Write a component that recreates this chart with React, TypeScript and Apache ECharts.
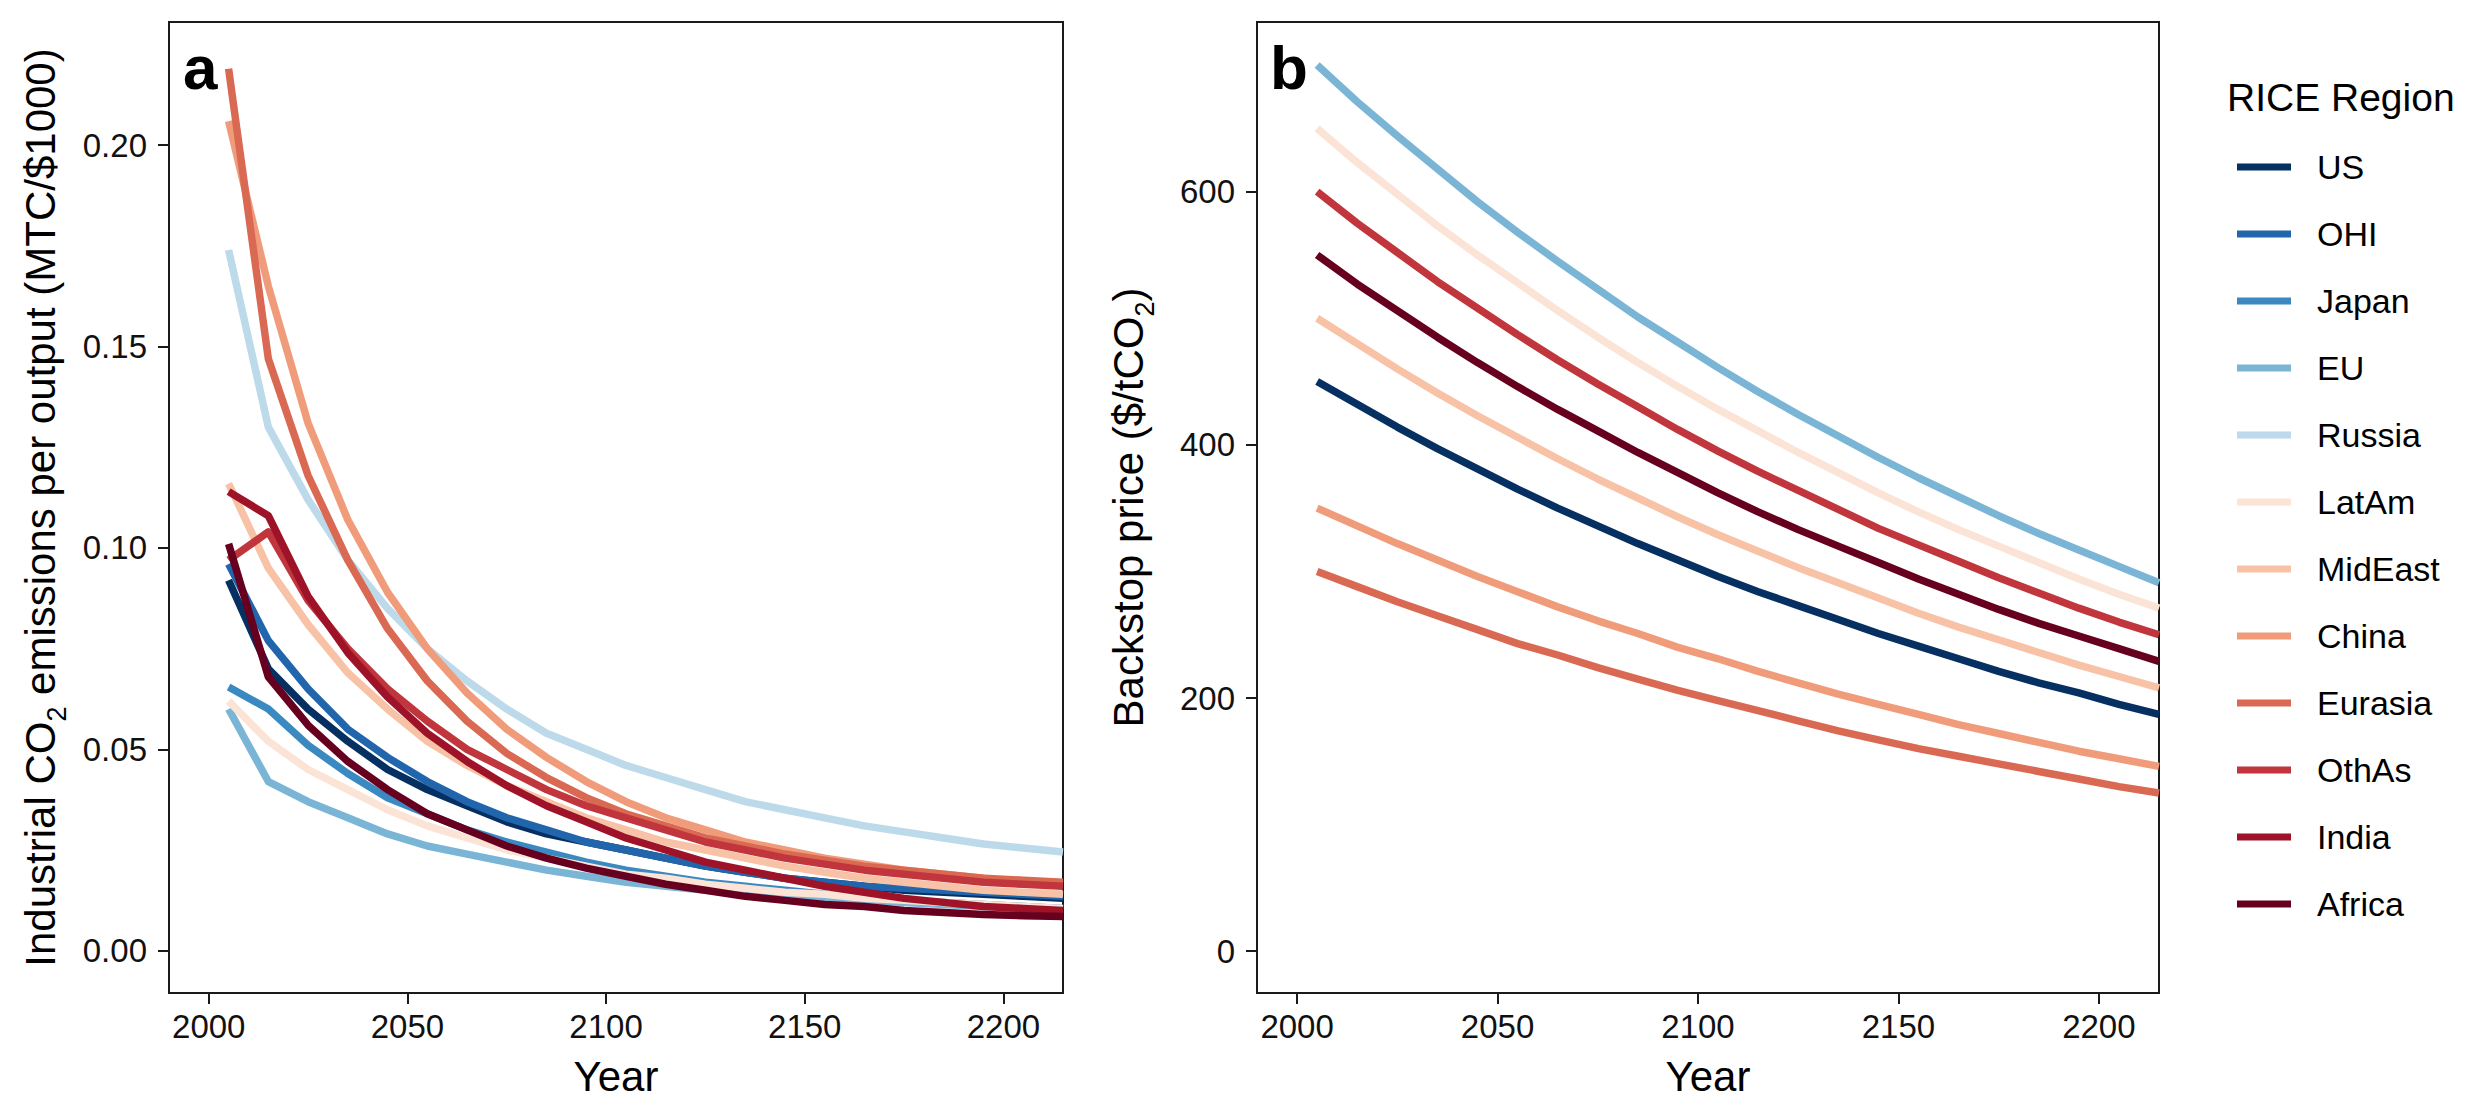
import React, { useEffect, useRef } from "react";
import * as echarts from "echarts";

const FONT = "'Liberation Sans', Arial, Helvetica, sans-serif";

const regions = ["US", "OHI", "Japan", "EU", "Russia", "LatAm", "MidEast", "China", "Eurasia", "OthAs", "India", "Africa"];
const regionColors = ["#053061", "#2166AC", "#3A89C1", "#7BB5D6", "#BCDAEA", "#FBE3D6", "#F8C2A6", "#F09C7B", "#DA6953", "#C0363C", "#9F1329", "#67001F"];

const years = [2005, 2015, 2025, 2035, 2045, 2055, 2065, 2075, 2085, 2095, 2105, 2115, 2125, 2135, 2145, 2155, 2165, 2175, 2185, 2195, 2205, 2215];

const xTicks = [2000, 2050, 2100, 2150, 2200];
const yTicksA = [0, 0.05, 0.1, 0.15, 0.2];
const yTicksB = [0, 200, 400, 600];

// Panel a: industrial CO2 emissions per output (MTC/$1000)
const usA = [0.092, 0.070, 0.060, 0.052, 0.045, 0.040, 0.036, 0.032, 0.029, 0.027, 0.025, 0.023, 0.021, 0.0195, 0.018, 0.017, 0.016, 0.015, 0.0145, 0.014, 0.0135, 0.013];
const ohiA = [0.096, 0.077, 0.065, 0.055, 0.048, 0.042, 0.037, 0.033, 0.030, 0.027, 0.025, 0.023, 0.021, 0.0195, 0.018, 0.017, 0.016, 0.0155, 0.015, 0.0145, 0.014, 0.0135];
const japanA = [0.0655, 0.060, 0.051, 0.044, 0.038, 0.034, 0.030, 0.027, 0.0245, 0.022, 0.020, 0.0185, 0.017, 0.016, 0.015, 0.014, 0.013, 0.0125, 0.012, 0.0115, 0.011, 0.0105];
const euA = [0.060, 0.042, 0.037, 0.033, 0.029, 0.026, 0.024, 0.022, 0.020, 0.0185, 0.017, 0.016, 0.015, 0.014, 0.0135, 0.013, 0.0125, 0.012, 0.0115, 0.011, 0.0105, 0.010];
const russiaA = [0.174, 0.130, 0.112, 0.097, 0.085, 0.075, 0.067, 0.060, 0.054, 0.050, 0.046, 0.043, 0.040, 0.037, 0.035, 0.033, 0.031, 0.0295, 0.028, 0.0265, 0.0255, 0.0245];
const latamA = [0.062, 0.052, 0.045, 0.040, 0.035, 0.031, 0.028, 0.025, 0.023, 0.021, 0.019, 0.018, 0.0165, 0.0155, 0.0145, 0.014, 0.013, 0.0125, 0.012, 0.0115, 0.011, 0.0105];
const mideastA = [0.116, 0.095, 0.081, 0.069, 0.060, 0.052, 0.046, 0.041, 0.037, 0.033, 0.030, 0.027, 0.025, 0.023, 0.021, 0.0195, 0.018, 0.017, 0.016, 0.015, 0.0145, 0.014];
const chinaA = [0.206, 0.165, 0.131, 0.107, 0.089, 0.075, 0.064, 0.055, 0.048, 0.042, 0.037, 0.033, 0.030, 0.027, 0.025, 0.023, 0.0215, 0.020, 0.019, 0.018, 0.017, 0.0165];
const eurasiaA = [0.219, 0.147, 0.118, 0.097, 0.080, 0.067, 0.057, 0.049, 0.043, 0.038, 0.034, 0.031, 0.028, 0.026, 0.024, 0.0225, 0.021, 0.020, 0.019, 0.018, 0.0175, 0.017];
const othasA = [0.097, 0.104, 0.087, 0.075, 0.065, 0.057, 0.050, 0.045, 0.040, 0.036, 0.033, 0.030, 0.027, 0.025, 0.023, 0.0215, 0.020, 0.019, 0.018, 0.017, 0.0165, 0.016];
const indiaA = [0.114, 0.108, 0.088, 0.074, 0.063, 0.054, 0.047, 0.041, 0.036, 0.032, 0.028, 0.025, 0.022, 0.020, 0.018, 0.016, 0.0145, 0.013, 0.012, 0.011, 0.0105, 0.010];
const africaA = [0.101, 0.068, 0.056, 0.047, 0.040, 0.034, 0.030, 0.026, 0.023, 0.0205, 0.0185, 0.0165, 0.015, 0.0135, 0.0125, 0.0115, 0.011, 0.010, 0.0095, 0.009, 0.0087, 0.0085];

// Panel b: backstop price ($/tCO2); regions not drawn in the reference are null
const usB = [450, 432, 414, 397, 381, 365, 350, 336, 322, 309, 296, 284, 273, 262, 251, 241, 231, 221, 212, 204, 195, 187];
const euB = [700, 671, 644, 618, 592, 568, 545, 523, 501, 481, 461, 442, 424, 407, 390, 374, 359, 344, 330, 317, 304, 291];
const latamB = [650, 623, 598, 573, 550, 528, 506, 485, 465, 446, 428, 411, 394, 378, 362, 347, 333, 320, 307, 294, 282, 271];
const mideastB = [500, 480, 460, 441, 423, 406, 389, 373, 358, 343, 329, 316, 303, 291, 279, 267, 256, 246, 236, 226, 217, 208];
const chinaB = [350, 336, 322, 309, 296, 284, 272, 261, 251, 240, 231, 221, 212, 203, 195, 187, 179, 172, 165, 158, 152, 146];
const eurasiaB = [300, 288, 276, 265, 254, 243, 234, 224, 215, 206, 198, 190, 182, 174, 167, 160, 154, 148, 142, 136, 130, 125];
const othasB = [600, 575, 552, 529, 508, 487, 467, 448, 430, 412, 395, 379, 364, 349, 334, 321, 308, 295, 283, 271, 260, 250];
const africaB = [550, 527, 506, 485, 465, 446, 428, 411, 394, 378, 362, 347, 333, 320, 307, 294, 282, 270, 259, 249, 239, 229];

const panelA = [usA, ohiA, japanA, euA, russiaA, latamA, mideastA, chinaA, eurasiaA, othasA, indiaA, africaA];
const panelB = [usB, null, null, euB, null, latamB, mideastB, chinaB, eurasiaB, othasB, null, africaB];

const LINE_W = 7.5;
const AXIS_COLOR = "#1a1a1a";

function makeXAxis(gridIndex: number) {
  return {
    type: "value",
    gridIndex,
    min: 1990,
    max: 2215,
    name: "Year",
    nameLocation: "middle",
    nameGap: 62,
    nameTextStyle: { fontSize: 42, color: "#000", fontFamily: FONT },
    axisLine: { show: false, onZero: false },
    axisTick: { show: true, length: 11, customValues: xTicks, lineStyle: { color: AXIS_COLOR, width: 2 } },
    axisLabel: { show: true, customValues: xTicks, fontSize: 33, color: "#111", margin: 17, fontFamily: FONT, formatter: (v: number) => String(v) },
    splitLine: { show: false },
  };
}

function makeYAxis(gridIndex: number, min: number, max: number, ticks: number[], name: string, fmt: (v: number) => string) {
  return {
    type: "value",
    gridIndex,
    min,
    max,
    name,
    nameLocation: "middle",
    nameGap: 99,
    nameRotate: 90,
    nameTextStyle: {
      fontSize: 42,
      color: "#000",
      fontFamily: FONT,
      rich: {
        a: { fontSize: 42, lineHeight: 60, verticalAlign: "middle", color: "#000", fontFamily: FONT },
        s: { fontSize: 27, lineHeight: 27, verticalAlign: "bottom", color: "#000", fontFamily: FONT },
      },
    },
    axisLine: { show: false, onZero: false },
    axisTick: { show: true, length: 11, customValues: ticks, lineStyle: { color: AXIS_COLOR, width: 2 } },
    axisLabel: { show: true, customValues: ticks, fontSize: 33, color: "#111", margin: 22, fontFamily: FONT, formatter: fmt },
    splitLine: { show: false },
  };
}

export default function App() {
  const ref = useRef<HTMLDivElement>(null);

  useEffect(() => {
    if (!ref.current) return;
    const chart = echarts.init(ref.current, undefined, { renderer: "svg" });

    const series: any[] = [];
    regions.forEach((r, i) => {
      series.push({
        type: "line",
        name: r,
        xAxisIndex: 0,
        yAxisIndex: 0,
        data: years.map((y, j) => [y, panelA[i][j]]),
        showSymbol: false,
        symbol: "none",
        silent: true,
        clip: true,
        lineStyle: { width: LINE_W, color: regionColors[i], join: "round", cap: "butt" },
        itemStyle: { color: regionColors[i] },
        emphasis: { disabled: true },
      });
    });
    regions.forEach((r, i) => {
      const vals = panelB[i];
      if (!vals) return;
      series.push({
        type: "line",
        name: r,
        xAxisIndex: 1,
        yAxisIndex: 1,
        data: years.map((y, j) => [y, vals[j]]),
        showSymbol: false,
        symbol: "none",
        silent: true,
        clip: true,
        lineStyle: { width: LINE_W, color: regionColors[i], join: "round", cap: "butt" },
        itemStyle: { color: regionColors[i] },
        emphasis: { disabled: true },
      });
    });

    const option: any = {
      animation: false,
      backgroundColor: "#ffffff",
      textStyle: { fontFamily: FONT },
      grid: [
        { left: 169, top: 22, width: 894, height: 971, show: true, borderColor: AXIS_COLOR, borderWidth: 2, backgroundColor: "transparent", containLabel: false },
        { left: 1257, top: 22, width: 902, height: 971, show: true, borderColor: AXIS_COLOR, borderWidth: 2, backgroundColor: "transparent", containLabel: false },
      ],
      xAxis: [makeXAxis(0), makeXAxis(1)],
      yAxis: [
        makeYAxis(0, -0.0105, 0.2306, yTicksA, "{a|Industrial CO}{s|2}{a| emissions per output (MTC/$1000)}", (v: number) => v.toFixed(2)),
        makeYAxis(1, -33, 734, yTicksB, "{a|Backstop price ($/tCO}{s|2}{a|)}", (v: number) => String(v)),
      ],
      legend: {
        data: regions,
        orient: "vertical",
        left: 2232,
        top: 145,
        itemWidth: 75,
        itemHeight: 7,
        itemGap: 33,
        icon: "path://M0 0H54V7H0ZM75 0",
        itemStyle: { borderWidth: 0 },
        selectedMode: false,
        textStyle: { fontSize: 34, lineHeight: 34, color: "#000", fontFamily: FONT },
      },
      graphic: [
        { type: "text", left: 183, top: 36, style: { text: "a", fontSize: 62, fontWeight: "bold", fill: "#000", fontFamily: FONT } },
        { type: "text", left: 1270, top: 36, style: { text: "b", fontSize: 62, fontWeight: "bold", fill: "#000", fontFamily: FONT } },
        { type: "text", left: 2227, top: 78, style: { text: "RICE Region", fontSize: 39, fill: "#000", fontFamily: FONT } },
      ],
      series,
    };

    chart.setOption(option);
    return () => chart.dispose();
  }, []);

  return <div ref={ref} style={{ position: "absolute", left: 0, top: 0, width: 2473, height: 1118 }} />;
}
